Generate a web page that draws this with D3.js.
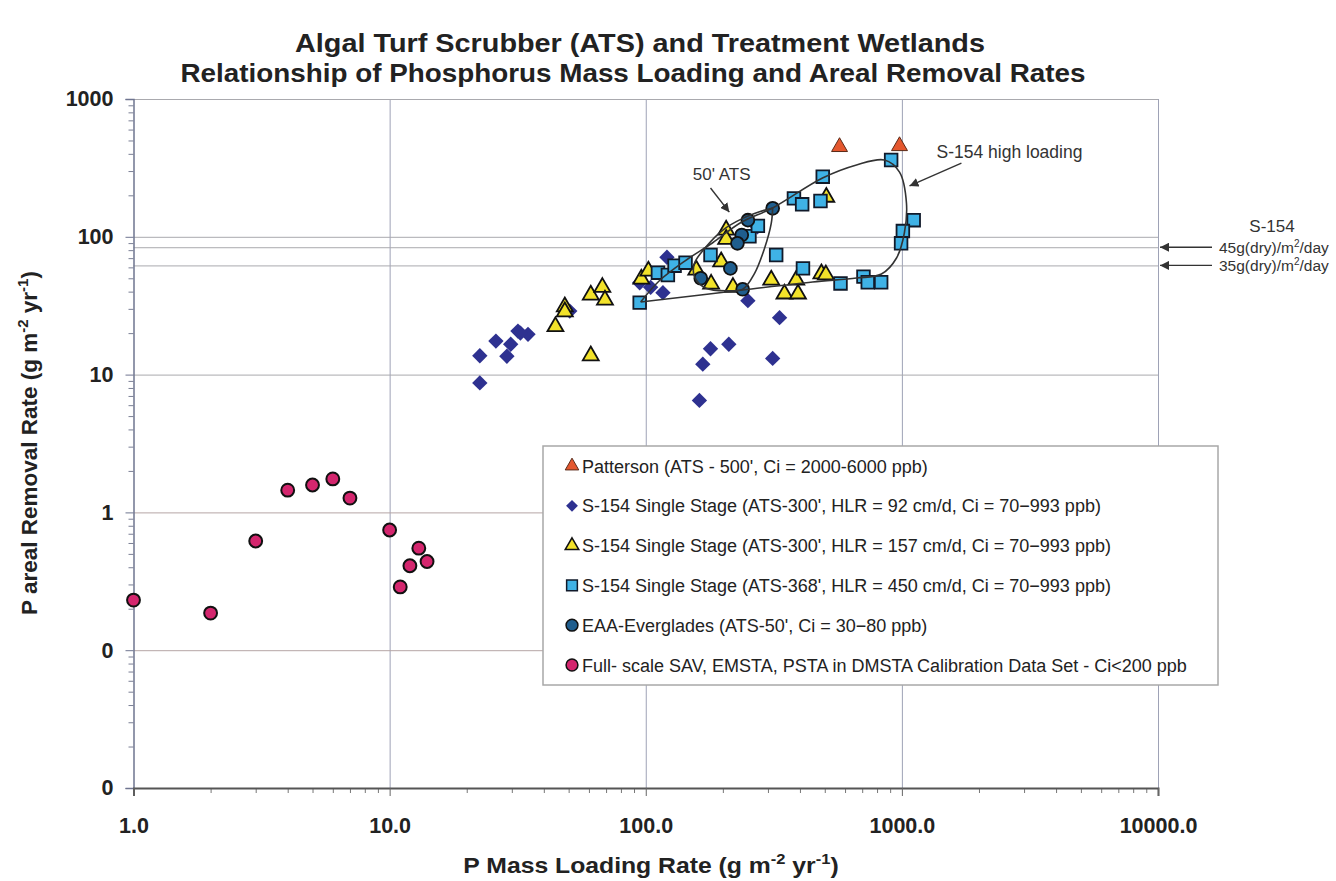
<!DOCTYPE html>
<html>
<head>
<meta charset="utf-8">
<script src="https://cdn.jsdelivr.net/npm/d3@7"></script>
<style>
  body { margin: 0; background: #fff; }
  text { font-family: 'Liberation Sans', Arial, sans-serif; }
</style>
</head>
<body>
<script>
// P mass loading (x) vs P areal removal (y)
const pattersonData = [[571, 449], [979, 456]];
const hlr92Data = [[22.5, 13.7], [22.5, 8.7], [26, 17.5], [29.7, 16.6], [28.7, 13.6], [31.7, 20.7], [34.7, 19.6], [32.4, 20],
  [50.5, 28.9], [94.7, 46.4], [104.5, 43], [116.7, 39.3], [121, 71], [250.5, 34.4], [333, 25.9], [179, 15.4],
  [211, 16.6], [167, 11.9], [313, 13.1], [162, 6.5], [273, 118]];
const hlr157Data = [[44.4, 22.3], [48.3, 31.1], [48.3, 28.6], [61, 37.8], [67.7, 43], [69.3, 34.8], [61, 13.7], [96.1, 49.4],
  [102.4, 56.5], [157.5, 57.4], [197, 65.9], [180, 45.4], [219, 43], [206, 112], [206, 96], [309, 48.6], [348, 38.5],
  [393, 38.5], [387, 48.6], [485, 54], [505, 53], [507, 194]];
const hlr450Data = [[94.7, 33.3], [111.6, 54.9], [122, 52.8], [129.6, 61.7], [143, 64.9], [179, 73.8], [254, 101], [274, 120],
  [323, 73.8], [411, 59], [379, 190], [408, 172], [481, 182], [491, 273], [908, 361], [1112, 132], [1009, 110],
  [993, 89.7], [576, 45.9], [708, 51.4], [736, 46.8], [830, 46.8]];
const eaaData = [[313, 161], [250.5, 132], [237, 103], [228, 89.7], [214, 59], [164, 50], [239, 41.6]];
const fullScaleData = [[1, 0.231], [2, 0.186], [3, 0.62], [4, 1.45], [5, 1.58], [6, 1.75], [7, 1.27], [10, 0.745],
  [11, 0.288], [12, 0.41], [13, 0.55], [14, 0.44]];

// hand drawn envelopes
const highLoadLoop = [[95.5, 33.6], [113, 48], [142, 66.7], [182, 90.2], [237, 128], [313, 162], [490, 267], [665, 332],
  [855, 361], [979, 295], [1042, 176], [1023, 107], [953, 70.2], [832, 53.7], [665, 50.2], [448, 47], [239, 41.1], [95.5, 33.6]];
const atsLoop = [[313, 162], [278, 152], [239, 136], [200, 112], [172, 84.7], [155, 64.2], [155, 51.4], [172, 42.3],
  [212, 40.6], [239, 41.6], [266, 54.3], [291, 82.6], [309, 125], [313, 162]];

// reference lines S-154
const refLines = [100, 84, 62];
const refLabels = ['45g(dry)/m', '35g(dry)/m'];

const xTicks = [1, 10, 100, 1000, 10000];
const xTickLabels = ['1.0', '10.0', '100.0', '1000.0', '10000.0'];
const yTicks = [0.01, 0.1, 1, 10, 100, 1000];
const yTickLabels = ['0', '0', '1', '10', '100', '1000'];

const legendLabels = [
  "Patterson (ATS - 500', Ci = 2000-6000 ppb)",
  "S-154 Single Stage (ATS-300', HLR = 92 cm/d, Ci = 70\u2212993 ppb)",
  "S-154 Single Stage (ATS-300', HLR = 157 cm/d, Ci = 70\u2212993 ppb)",
  "S-154 Single Stage (ATS-368', HLR = 450 cm/d, Ci = 70\u2212993 ppb)",
  "EAA-Everglades (ATS-50', Ci = 30\u221280 ppb)",
  "Full- scale SAV, EMSTA, PSTA in DMSTA Calibration Data Set - Ci<200 ppb"
];

const svgWid = 1336, svgHt = 881;
const margin = {top: 99, right: 178, bottom: 93, left: 133.5};
const innerW = svgWid - margin.left - margin.right;
const innerH = svgHt - margin.top - margin.bottom;

const svg = d3.select('body').append('svg').attr('width', svgWid).attr('height', svgHt);

const xScale = d3.scaleLog().domain([1, 10000]).range([0, innerW]);
const yScale = d3.scaleLog().domain([0.01, 1000]).range([innerH, 0]);

// title
const title = svg.append('g').attr('font-weight', 'bold').attr('font-size', '25px').attr('text-anchor', 'middle').attr('fill', '#222');
title.append('text').attr('x', 640).attr('y', 52).attr('textLength', 690).attr('lengthAdjust', 'spacingAndGlyphs')
  .text('Algal Turf Scrubber (ATS) and Treatment Wetlands');
title.append('text').attr('x', 633).attr('y', 82).attr('textLength', 905).attr('lengthAdjust', 'spacingAndGlyphs')
  .text('Relationship of Phosphorus Mass Loading and Areal Removal Rates');

const g = svg.append('g').attr('transform', `translate(${margin.left},${margin.top})`);

// grid
const xGrid = g.append('g').attr('transform', `translate(0,${innerH})`)
  .call(d3.axisBottom(xScale).tickValues(xTicks.slice(1)).tickSize(-innerH).tickFormat(''));
xGrid.select('.domain').remove();
xGrid.selectAll('.tick line').attr('stroke', '#9ea2b6');

const yGrid = g.append('g')
  .call(d3.axisLeft(yScale).tickValues(yTicks.slice(1).concat(refLines.slice(1))).tickSize(-innerW).tickFormat(''));
yGrid.select('.domain').remove();
yGrid.selectAll('.tick line').attr('stroke', d => d < 10 ? '#b5a5a5' : '#a9a9ae');

// minor ticks
const minorY = yScale.ticks().filter(d => yTicks.indexOf(d) < 0);
const yMinor = g.append('g').call(d3.axisLeft(yScale).tickValues(minorY).tickSize(5).tickFormat(''));
yMinor.select('.domain').remove();
yMinor.selectAll('.tick line').attr('stroke', '#7a7f95');
const minorX = xScale.ticks().filter(d => xTicks.indexOf(d) < 0);
const xMinor = g.append('g').attr('transform', `translate(0,${innerH})`)
  .call(d3.axisBottom(xScale).tickValues(minorX).tickSize(5).tickFormat(''));
xMinor.select('.domain').remove();
xMinor.selectAll('.tick line').attr('stroke', '#777');

// axes
const yAxisG = g.append('g').call(d3.axisLeft(yScale).tickValues(yTicks).tickSize(8).tickPadding(12)
  .tickFormat((d, i) => yTickLabels[i]));
yAxisG.select('.domain').attr('stroke', '#6f7590').attr('stroke-width', 1.5);
yAxisG.selectAll('.tick line').attr('stroke', '#6f7590');
yAxisG.selectAll('text').attr('font-size', '21.5px').attr('font-weight', 'bold').attr('fill', '#222');

const xAxisG = g.append('g').attr('transform', `translate(0,${innerH})`)
  .call(d3.axisBottom(xScale).tickValues(xTicks).tickSize(8).tickPadding(22).tickFormat((d, i) => xTickLabels[i]));
xAxisG.select('.domain').attr('stroke', '#555').attr('stroke-width', 2);
xAxisG.selectAll('.tick line').attr('stroke', '#666');
xAxisG.selectAll('text').attr('font-size', '21.5px').attr('font-weight', 'bold').attr('fill', '#222');

// axis titles (glyphs in the source are a bit wider than tall, so stretch x)
const xT = svg.append('text').attr('transform', 'translate(651,873) scale(1.1,1)').attr('text-anchor', 'middle')
  .attr('font-size', '22.5px').attr('font-weight', 'bold').attr('fill', '#222');
xT.append('tspan').text('P Mass Loading Rate (g m');
xT.append('tspan').attr('dy', -9).attr('font-size', '15px').text('-2');
xT.append('tspan').attr('dy', 9).text(' yr');
xT.append('tspan').attr('dy', -9).attr('font-size', '15px').text('-1');
xT.append('tspan').attr('dy', 9).text(')');

const yT = svg.append('text').attr('transform', 'translate(37,443) rotate(-90)').attr('text-anchor', 'middle')
  .attr('font-size', '22.5px').attr('font-weight', 'bold').attr('fill', '#222');
yT.append('tspan').text('P areal Removal Rate (g m');
yT.append('tspan').attr('dy', -9).attr('font-size', '15px').text('-2');
yT.append('tspan').attr('dy', 9).text(' yr');
yT.append('tspan').attr('dy', -9).attr('font-size', '15px').text('-1');
yT.append('tspan').attr('dy', 9).text(')');

// markers
const diamond = d3.symbol().type(d3.symbolSquare).size(118)();
const tri = d3.symbol().type(d3.symbolTriangle).size(110)();
const sq = d3.symbol().type(d3.symbolSquare).size(160)();
const circ = d3.symbol().type(d3.symbolCircle).size(130)();

function drawSeries(data, path, fill, stroke, sw, rot) {
  g.append('g').selectAll('path').data(data).enter().append('path')
    .attr('d', path)
    .attr('transform', d => `translate(${xScale(d[0])},${yScale(d[1])}) rotate(${rot})`)
    .attr('fill', fill).attr('stroke', stroke).attr('stroke-width', sw);
}

const styles = [
  {path: tri, fill: '#e4572e', stroke: '#5a2a18', sw: 1, rot: 0},
  {path: diamond, fill: '#2e3190', stroke: 'none', sw: 0, rot: 45},
  {path: tri, fill: '#f2e22a', stroke: '#111', sw: 1.8, rot: 0},
  {path: sq, fill: '#3fb2e6', stroke: '#111a2a', sw: 1.8, rot: 0},
  {path: circ, fill: '#1f5e8e', stroke: '#111', sw: 1.8, rot: 0},
  {path: circ, fill: '#d4266e', stroke: '#111', sw: 2, rot: 0}
];

drawSeries(fullScaleData, styles[5].path, styles[5].fill, styles[5].stroke, styles[5].sw, 0);
drawSeries(hlr92Data, styles[1].path, styles[1].fill, styles[1].stroke, styles[1].sw, 45);
drawSeries(hlr157Data, styles[2].path, styles[2].fill, styles[2].stroke, styles[2].sw, 0);
drawSeries(hlr450Data, styles[3].path, styles[3].fill, styles[3].stroke, styles[3].sw, 0);
drawSeries(eaaData, styles[4].path, styles[4].fill, styles[4].stroke, styles[4].sw, 0);
drawSeries(pattersonData, styles[0].path, styles[0].fill, styles[0].stroke, styles[0].sw, 0);

// envelopes
const loopLine = d3.line().x(d => xScale(d[0])).y(d => yScale(d[1])).curve(d3.curveCatmullRom);
g.append('path').attr('d', loopLine(highLoadLoop)).attr('fill', 'none').attr('stroke', '#333').attr('stroke-width', 1.6);
g.append('path').attr('d', loopLine(atsLoop)).attr('fill', 'none').attr('stroke', '#333').attr('stroke-width', 1.6);

// arrows
svg.append('defs').append('marker').attr('id', 'arr').attr('viewBox', '0 0 10 10').attr('refX', 10).attr('refY', 5)
  .attr('markerWidth', 9).attr('markerHeight', 9).attr('markerUnits', 'userSpaceOnUse').attr('orient', 'auto')
  .append('path').attr('d', 'M0,0 L10,5 L0,10 z').attr('fill', '#333');

function arrow(x1, y1, x2, y2) {
  g.append('line').attr('x1', x1).attr('y1', y1).attr('x2', x2).attr('y2', y2)
    .attr('stroke', '#333').attr('stroke-width', 1.4).attr('marker-end', 'url(#arr)');
}

g.append('text').attr('x', xScale(198)).attr('y', yScale(258)).attr('text-anchor', 'middle')
  .attr('font-size', '17px').attr('fill', '#333').text("50' ATS");
arrow(xScale(179), yScale(226), xScale(212), yScale(151));

g.append('text').attr('x', xScale(1365)).attr('y', yScale(373))
  .attr('font-size', '17.5px').attr('fill', '#333').text('S-154 high loading');
arrow(xScale(1708), yScale(343), xScale(1071), yScale(234));

// S-154 loading labels on right
g.append('text').attr('x', innerW + 114).attr('y', yScale(100) - 5).attr('text-anchor', 'middle')
  .attr('font-size', '17px').attr('fill', '#333').text('S-154');
refLabels.forEach((lab, i) => {
  const yy = yScale(refLines[i + 1]);
  arrow(innerW + 54, yy, innerW + 2, yy);
  const t = g.append('text').attr('x', innerW + 61).attr('y', yy + 6).attr('font-size', '15.5px').attr('fill', '#333');
  t.append('tspan').text(lab);
  t.append('tspan').attr('dy', -6).attr('font-size', '10px').text('2');
  t.append('tspan').attr('dy', 6).text('/day');
});

// legend
const lg = svg.append('g').attr('transform', 'translate(543,446)');
lg.append('rect').attr('width', 675).attr('height', 239).attr('fill', '#fff').attr('stroke', '#a8a8a8').attr('stroke-width', 1.5);
legendLabels.forEach((lab, i) => {
  const row = lg.append('g').attr('transform', `translate(0,${20 + i * 39.8})`);
  const st = styles[i];
  const small = st.path === sq ? d3.symbol().type(d3.symbolSquare).size(115)()
    : st.path === circ ? d3.symbol().type(d3.symbolCircle).size(110)()
    : st.path === tri ? d3.symbol().type(d3.symbolTriangle).size(80)()
    : d3.symbol().type(d3.symbolSquare).size(70)();
  row.append('path').attr('d', small).attr('transform', `translate(29,0) rotate(${st.rot})`)
    .attr('fill', st.fill).attr('stroke', st.stroke).attr('stroke-width', Math.min(st.sw, 1.5));
  row.append('text').attr('x', 39).attr('y', 6.5).attr('font-size', '18px').attr('fill', '#222').text(lab);
});
</script>
</body>
</html>
